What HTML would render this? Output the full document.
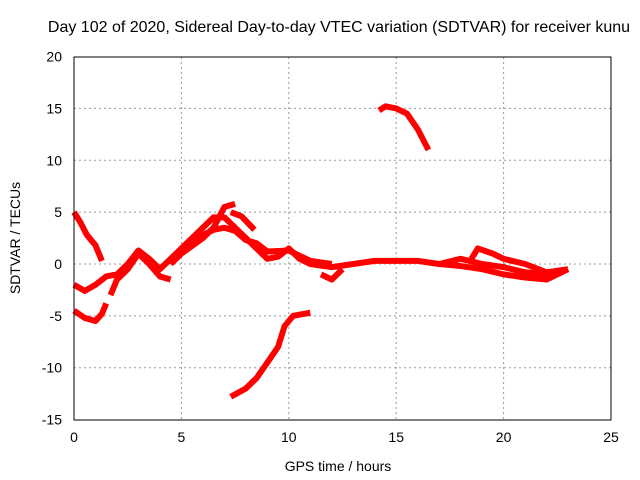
<!DOCTYPE html>
<html><head><meta charset="utf-8"><style>
body{margin:0;background:#fff}
svg{display:block;font-family:"Liberation Sans",sans-serif}
</style></head><body>
<svg id="c" width="640" height="480">
<text x="339" y="32" font-size="16" text-anchor="middle">Day 102 of 2020, Sidereal Day-to-day VTEC variation (SDTVAR) for receiver kunu</text>
<g id="grid"></g>
<g id="series"></g>
<rect x="74" y="57" width="537" height="363" fill="none" stroke="#000"/>
<g id="ticks"></g>
<text x="338" y="471" font-size="14" text-anchor="middle">GPS time / hours</text>
<text transform="translate(20,238) rotate(-90)" font-size="14" text-anchor="middle">SDTVAR / TECUs</text>
</svg>
<script>
const xTicks=[0,5,10,15,20,25];
const yTicks=[-15,-10,-5,0,5,10,15,20];
const sA=[[0,5],[0.3,4],[0.6,2.8],[1,1.8],[1.3,0.3]];
const sB=[[0,-4.5],[0.5,-5.2],[1,-5.5],[1.3,-4.8],[1.5,-3.8]];
const sC=[[0,-2],[0.5,-2.6],[1,-2],[1.5,-1.2],[2,-1],[2.5,0],[3,1.3],[3.5,0.5],[4,-0.5],[4.5,0.5],[5,1.5],[5.5,2.5],[6,3.5],[6.5,4.5],[7,4.5],[7.5,3.5],[8,2.5],[8.5,1.5],[9,0.5],[9.5,0.7],[10,1.5],[10.5,0.5],[11,0],[12,-0.3],[13,0],[14,0.3],[15,0.3],[16,0.3],[17,0],[18,-0.2],[19,-0.5],[20,-1],[21,-1.3],[22,-1.5],[23,-0.5]];
const sD=[[1.7,-3],[2,-1.5],[2.5,-0.5],[3,1],[3.5,0],[4,-1.2],[4.5,-1.5]];
const sD2=[[4.5,0],[5,1],[6,2.5],[6.5,3.5],[7,5.5],[7.5,5.8]];
const sD3=[[5.5,2],[6,2.8],[6.5,3.3],[7,3.5],[7.5,3.2],[8,2.3],[8.5,2],[9,1.2],[10,1.3],[11,0.3],[12,0]];
const sD4=[[7.3,5],[7.8,4.6],[8.4,3.3]];
const sE=[[7.3,-12.8],[8,-12],[8.5,-11],[9,-9.5],[9.5,-8],[9.8,-6],[10.2,-5],[11,-4.7]];
const sF=[[14.2,14.8],[14.5,15.2],[15,15],[15.5,14.5],[16,13],[16.5,11]];
const sG=[[18.5,0.5],[18.8,1.5],[19.5,1],[20,0.5],[21,0],[22,-0.8],[23,-0.5]];
const sH=[[11.5,-1],[12,-1.5],[12.5,-0.5]];
const sI=[[17,0],[18,0.5],[19,0],[20,-0.3],[21,-0.8],[22,-1],[22.7,-0.8]];
const allSeries=[sA,sB,sC,sD,sD2,sD3,sD4,sE,sF,sG,sH,sI];
const X=h=>74+h*537/25, Y=v=>264-v*363/35;
const NS="http://www.w3.org/2000/svg";
const grid=document.getElementById('grid'),ticks=document.getElementById('ticks'),ser=document.getElementById('series');
xTicks.forEach(t=>{
 const x=X(t);
 if(t>0&&t<25){const l=document.createElementNS(NS,'line');l.setAttribute('x1',x);l.setAttribute('x2',x);l.setAttribute('y1',57);l.setAttribute('y2',420);l.setAttribute('stroke','#999');l.setAttribute('stroke-dasharray','2,3');
 
 
 grid.appendChild(l);}
 const tx=document.createElementNS(NS,'text');tx.setAttribute('x',x);tx.setAttribute('y',442);tx.setAttribute('font-size','14');tx.setAttribute('text-anchor','middle');tx.textContent=t;
 
 
 ticks.appendChild(tx);
});
yTicks.forEach(t=>{
 const y=Y(t);
 if(t>-15&&t<20){const l=document.createElementNS(NS,'line');l.setAttribute('x1',74);l.setAttribute('x2',611);l.setAttribute('y1',y);l.setAttribute('y2',y);l.setAttribute('stroke','#999');l.setAttribute('stroke-dasharray','2,3');
 
 
 grid.appendChild(l);}
 const tx=document.createElementNS(NS,'text');tx.setAttribute('x',62);tx.setAttribute('y',y+5);tx.setAttribute('font-size','14');tx.setAttribute('text-anchor','end');tx.textContent=t;
 
 
 ticks.appendChild(tx);
});
allSeries.forEach(s=>{
 const p=document.createElementNS(NS,'polyline');
 p.setAttribute('points',s.map(d=>X(d[0])+','+Y(d[1])).join(' '));
 p.setAttribute('fill','none');p.setAttribute('stroke','#f00');p.setAttribute('stroke-width','6');p.setAttribute('stroke-linejoin','round');
 
 
 ser.appendChild(p);
});
</script>
</body></html>
